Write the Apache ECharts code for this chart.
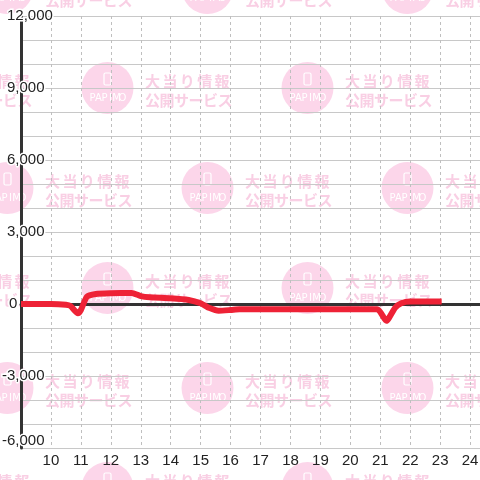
<!DOCTYPE html>
<html>
<head>
<meta charset="utf-8">
<script src="https://cdn.jsdelivr.net/npm/echarts@6/dist/echarts.min.js"></script>
<style>
  html, body { margin: 0; padding: 0; background: #fff; }
  #chart { width: 480px; height: 480px; }
</style>
</head>
<body>
<div id="chart"></div>
<script>
// time of day (hours) and balance
const hours  = [9.0, 10.0, 10.5, 10.65, 10.9, 11.0, 11.2, 11.5, 12.0, 12.7, 13.0, 13.3, 14.0, 14.6, 15.0, 15.3, 15.6, 16.0, 16.3, 20.9, 21.2, 21.5, 21.7, 22.0, 23.05];
const values = [0, 0, -30, -80, -390, -250, 300, 420, 450, 460, 330, 280, 240, 170, 30, -170, -280, -250, -220, -220, -700, -150, 30, 100, 100];
const xMin = 9, xMax = 24.33;
const yMin = -6000, yMax = 12000;

// watermark tile
function makeTile() {
  const c = document.createElement('canvas');
  c.width = 200; c.height = 200;
  const ctx = c.getContext('2d');
  ctx.fillStyle = '#fff';
  ctx.fillRect(0, 0, 200, 200);
  const spots = [[107.5, 88], [7.5, 188]];
  for (const [bx, by] of spots) {
    for (const dx of [-200, 0, 200]) {
      for (const dy of [-200, 0, 200]) {
        drawMark(ctx, bx + dx, by + dy);
      }
    }
  }
  return c;
}
function drawMark(ctx, cx, cy) {
  ctx.fillStyle = '#fcd6ea';
  ctx.beginPath();
  ctx.arc(cx, cy, 26, 0, Math.PI * 2);
  ctx.fill();
  ctx.strokeStyle = '#fff';
  ctx.lineWidth = 1.2;
  ctx.beginPath();
  ctx.roundRect(cx - 3.5, cy - 15, 7, 12, 1.5);
  ctx.stroke();
  ctx.fillStyle = '#fff';
  ctx.font = '10px "DejaVu Sans", sans-serif';
  ctx.textBaseline = 'middle';
  ctx.textAlign = 'center';
  const pap = 'PAPIMO';
  for (let i = 0; i < pap.length; i++) {
    ctx.fillText(pap[i], cx - 15 + i * 6, cy + 10);
  }
  ctx.fillStyle = '#f9cfe4';
  ctx.font = 'bold 15px "Noto Sans CJK JP", sans-serif';
  ctx.textAlign = 'left';
  const l1 = '大当り情報', l2 = '公開サービス';
  for (let i = 0; i < l1.length; i++) ctx.fillText(l1[i], cx + 37.5 + i * 17.4, cy - 7);
  for (let i = 0; i < l2.length; i++) ctx.fillText(l2[i], cx + 37.5 + i * 14.5, cy + 12);
}

const chart = echarts.init(document.getElementById('chart'));
const labelFont = '"Liberation Sans", Arial, sans-serif';

// y tick label: left edge nudged for sign / single digit, min label lifted
function yLabel(v) {
  const s = v.toLocaleString('en-US');
  if (v === yMin) return '{low|' + s + '}';
  if (v < 0) return '{neg|' + s + '}';
  if (v === 0) return '{zero|' + s + '}';
  return '{pos|' + s + '}';
}
const baseRich = {
  fontSize: 15,
  fontFamily: labelFont,
  color: '#222',
  textBorderColor: '#fff',
  textBorderWidth: 3
};

chart.setOption({
  animation: false,
  backgroundColor: { image: makeTile(), repeat: 'repeat' },
  grid: { left: 21, right: 0, top: 16, bottom: 32, outerBoundsMode: 'none' },
  xAxis: [{
    type: 'value',
    min: xMin,
    max: xMax,
    interval: 1,
    axisLine: { show: false, onZero: false },
    axisTick: { show: false },
    axisLabel: {
      margin: 5,
      fontSize: 15,
      fontFamily: labelFont,
      color: '#222',
      showMinLabel: false,
      showMaxLabel: false
    },
    splitLine: {
      show: true,
      lineStyle: { color: '#bfbfbf', width: 1, type: [3, 3] }
    }
  }, {
    type: 'value',
    min: xMin,
    max: xMax,
    position: 'bottom',
    axisLine: { show: true, onZero: true, onZeroAxisIndex: 0, lineStyle: { color: '#333', width: 3 } },
    axisTick: { show: false },
    axisLabel: { show: false },
    splitLine: { show: false }
  }],
  yAxis: {
    type: 'value',
    min: yMin,
    max: yMax,
    interval: 3000,
    axisLine: { show: true, onZero: false, lineStyle: { color: '#333', width: 3 } },
    axisTick: { show: false },
    axisLabel: {
      align: 'left',
      margin: 19,
      fontSize: 15,
      fontFamily: labelFont,
      color: '#222',
      textBorderColor: '#fff',
      textBorderWidth: 3,
      formatter: yLabel,
      rich: {
        pos: Object.assign({}, baseRich, { padding: [0, 0, 0, 5] }),
        zero: Object.assign({}, baseRich, { padding: [0, 0, 0, 7] }),
        neg: Object.assign({}, baseRich),
        low: Object.assign({}, baseRich, { padding: [0, 0, 14, 0] })
      }
    },
    splitLine: { show: true, lineStyle: { color: '#c8c8c8', width: 1 } },
    minorTick: { show: false, splitNumber: 3 },
    minorSplitLine: { show: true, lineStyle: { color: '#c8c8c8', width: 1 } }
  },
  series: [{
    type: 'line',
    xAxisIndex: 0,
    data: hours.map((h, i) => [h, values[i]]),
    showSymbol: false,
    symbol: 'none',
    smooth: 0.2,
    lineStyle: { color: '#ee2236', width: 6, join: 'round' },
    z: 5
  }]
});
</script>
</body>
</html>
